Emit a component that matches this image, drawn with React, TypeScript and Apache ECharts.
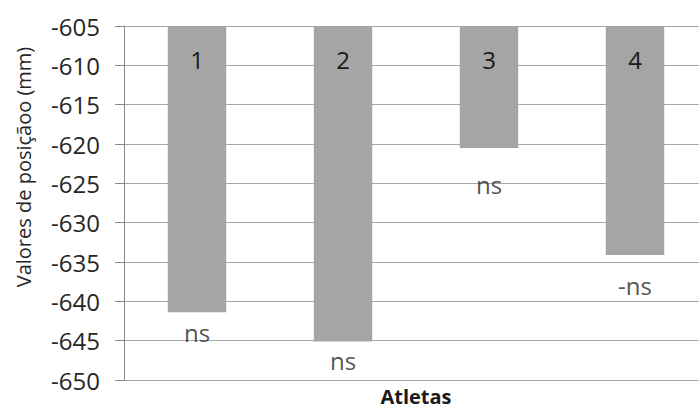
import React, { useEffect, useRef } from "react";
import * as echarts from "echarts";

const categories = ["1", "2", "3", "4"];
const barValues = [-641.4, -645.1, -620.5, -634.1];
const yMin = -650;
const yMax = -605;
const yStep = 5;
const noteTexts = ["ns", "ns", "ns", "-ns"];
const noteValues = [-643.9, -647.5, -625.2, -638.0];
const yTitle = "Valores de posiçãoo (mm)";
const xTitle = "Atletas";

const FONT = "'Open Sans', 'DejaVu Sans', sans-serif";

export default function App() {
  const ref = useRef<HTMLDivElement>(null);
  useEffect(() => {
    document.body.style.margin = "0";
    const chart = echarts.init(ref.current!, null, { renderer: "svg" });
    chart.setOption({
      animation: false,
      backgroundColor: "#ffffff",
      textStyle: { fontFamily: FONT },
      grid: { left: 124, right: -9, top: 26, bottom: 30, containLabel: false, outerBoundsMode: "none" },
      xAxis: [
        {
          type: "category",
          data: categories,
          position: "bottom",
          axisLine: { show: false, onZero: false },
          axisTick: { show: false },
          axisLabel: { show: false },
          splitLine: { show: false },
          name: xTitle,
          nameLocation: "middle",
          nameGap: 5,
          nameTextStyle: { fontFamily: FONT, fontSize: 20, fontWeight: "bold", color: "#1a1a1a", lineHeight: 22 },
        },
        {
          type: "category",
          data: categories,
          position: "top",
          z: 10,
          axisLine: { show: false, onZero: false },
          axisTick: { show: false },
          splitLine: { show: false },
          axisLabel: { inside: true, margin: 21, fontFamily: FONT, fontSize: 24, color: "#1a1a1a" },
        },
      ],
      yAxis: {
        type: "value",
        min: yMin,
        max: yMax,
        interval: yStep,
        axisLine: { show: true, lineStyle: { color: "#8a8a8a", width: 1 } },
        axisTick: { show: true, length: 9, lineStyle: { color: "#8a8a8a" } },
        axisLabel: { fontFamily: FONT, fontSize: 24, margin: 24, color: "#262626" },
        splitLine: { show: true, lineStyle: { color: "#a6a6a6", width: 1 } },
        name: yTitle,
        nameLocation: "middle",
        nameRotate: 90,
        nameGap: 91,
        nameTextStyle: { fontFamily: FONT, fontSize: 20, color: "#262626", padding: [0, 0, 0, 72] },
      },
      series: [
        {
          type: "bar",
          xAxisIndex: 0,
          data: barValues,
          barWidth: "40%",
          clip: true,
          itemStyle: { color: "#a5a5a5" },
        },
        {
          type: "scatter",
          xAxisIndex: 0,
          data: noteValues.map((v, i) => [i, v]),
          symbolSize: 1,
          itemStyle: { color: "rgba(0,0,0,0)" },
          z: 5,
          label: {
            show: true,
            position: "inside",
            fontFamily: FONT,
            fontSize: 24,
            color: "#262626",
            formatter: (p: any) => noteTexts[p.dataIndex],
          },
        },
      ],
    });
    return () => chart.dispose();
  }, []);
  return <div ref={ref} style={{ width: 699, height: 410 }} />;
}
